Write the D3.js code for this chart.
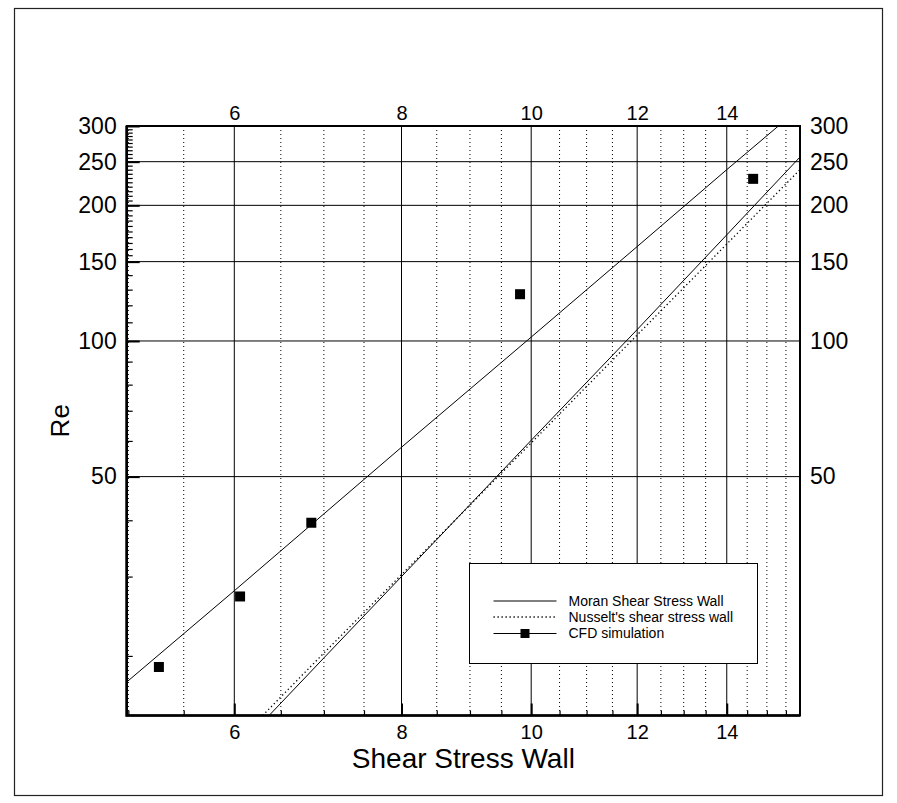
<!DOCTYPE html>
<html>
<head>
<meta charset="utf-8">
<script src="https://cdn.jsdelivr.net/npm/d3@7"></script>
<style>
  html, body { margin: 0; padding: 0; background: #fff; }
  svg { display: block; }
  text { font-family: "Liberation Sans", Arial, Helvetica, sans-serif; fill: #000; }
</style>
</head>
<body>
<svg id="chart" width="897" height="803"></svg>
<script>
// Axis ranges (log-log)
const xDomain = [4.986, 15.88];
const yDomain = [14.75, 300];

// Tick values
const xMajorTicks = [6, 8, 10, 12, 14];
const xMinorTicks = [5, 5.5, 6.5, 7, 7.5, 8.5, 9, 9.5, 10.5, 11, 11.5, 12.5, 13, 13.5, 14.5, 15, 15.5];
const yMajorTicks = [50, 100, 150, 200, 250, 300];
const yGridTicks = [50, 100, 150, 200, 250];
const yMinorTicks = [20, 30, 40, 60, 70, 80, 90, 110, 120, 130, 140,
  155, 160, 165, 170, 175, 180, 185, 190, 195, 205, 210, 215, 220, 225, 230, 235, 240, 245,
  255, 260, 265, 270, 275, 280, 285, 290, 295];

// Moran shear stress wall correlation
const moranX = [4.986, 6, 8, 10, 12, 14, 15.3];
const moranY = [17.5, 27.9, 58.1, 102, 162, 240, 300];

// Nusselt's shear stress wall correlation
const nusseltX = [6.30, 7, 8, 10, 12, 14, 15.88];
const nusseltY = [14.75, 20.3, 30.3, 59.4, 103.1, 164.1, 240];

// CFD simulation: trend line and simulated points
const cfdLineX = [6.37, 7, 8, 10, 12, 14, 15.88];
const cfdLineY = [14.75, 19.8, 30.0, 60.2, 106, 172, 256];
const cfdX = [5.27, 6.06, 6.85, 9.81, 14.65];
const cfdY = [18.9, 27.1, 39.5, 127, 229];

const legendLabels = ["Moran Shear Stress Wall", "Nusselt's shear stress wall", "CFD simulation"];

const svg = d3.select("#chart");
const plot = { left: 126.7, right: 800, top: 126, bottom: 715.5 };

const x = d3.scaleLog().domain(xDomain).range([plot.left, plot.right]);
const y = d3.scaleLog().domain(yDomain).range([plot.bottom, plot.top]);

// Outer page border
svg.append("rect")
  .attr("x", 14.5).attr("y", 8.5)
  .attr("width", 868).attr("height", 787)
  .attr("fill", "none").attr("stroke", "#222").attr("stroke-width", 1.2);

// Grid
const grid = svg.append("g");
grid.selectAll("line.xminor").data(xMinorTicks).join("line")
  .attr("x1", d => x(d)).attr("x2", d => x(d))
  .attr("y1", plot.top).attr("y2", plot.bottom)
  .attr("stroke", "#000").attr("stroke-width", 1).attr("stroke-dasharray", "1,3");
grid.selectAll("line.xmajor").data(xMajorTicks).join("line")
  .attr("x1", d => x(d)).attr("x2", d => x(d))
  .attr("y1", plot.top).attr("y2", plot.bottom)
  .attr("stroke", "#000").attr("stroke-width", 1);
grid.selectAll("line.ymajor").data(yGridTicks).join("line")
  .attr("x1", plot.left).attr("x2", plot.right)
  .attr("y1", d => y(d)).attr("y2", d => y(d))
  .attr("stroke", "#000").attr("stroke-width", 1);

// Curves
const clip = svg.append("clipPath").attr("id", "plotClip");
clip.append("rect")
  .attr("x", plot.left).attr("y", plot.top)
  .attr("width", plot.right - plot.left).attr("height", plot.bottom - plot.top);

const line = d3.line().x(d => x(d[0])).y(d => y(d[1]));
const curves = svg.append("g").attr("clip-path", "url(#plotClip)");
curves.append("path")
  .datum(d3.zip(moranX, moranY))
  .attr("d", line).attr("fill", "none").attr("stroke", "#000").attr("stroke-width", 1);
curves.append("path")
  .datum(d3.zip(cfdLineX, cfdLineY))
  .attr("d", line).attr("fill", "none").attr("stroke", "#000").attr("stroke-width", 1);
curves.append("path")
  .datum(d3.zip(nusseltX, nusseltY))
  .attr("d", line).attr("fill", "none").attr("stroke", "#000").attr("stroke-width", 1.3)
  .attr("stroke-dasharray", "1.3,2.7");

// CFD simulation points
svg.append("g").selectAll("rect").data(d3.zip(cfdX, cfdY)).join("rect")
  .attr("x", d => x(d[0]) - 5).attr("y", d => y(d[1]) - 5)
  .attr("width", 10).attr("height", 10).attr("fill", "#000");

// Axes
const fmt = d3.format("d");
const bottomAxis = svg.append("g")
  .attr("transform", `translate(0,${plot.bottom})`)
  .call(d3.axisBottom(x).tickValues(xMajorTicks).tickFormat(fmt)
    .tickSizeInner(-12).tickSizeOuter(0).tickPadding(9.5));
bottomAxis.selectAll("text").attr("font-size", 20);
bottomAxis.selectAll(".tick line").attr("stroke-width", 2);

const bottomMinor = svg.append("g")
  .attr("transform", `translate(0,${plot.bottom})`)
  .call(d3.axisBottom(x).tickValues(xMinorTicks).tickFormat("")
    .tickSizeInner(-5).tickSizeOuter(0));
bottomMinor.selectAll(".tick line").attr("stroke-width", 1.2);

const topAxis = svg.append("g")
  .attr("transform", `translate(0,${plot.top})`)
  .call(d3.axisTop(x).tickValues(xMajorTicks).tickFormat(fmt)
    .tickSize(0).tickPadding(6.5));
topAxis.selectAll("text").attr("font-size", 20);

const leftAxis = svg.append("g")
  .attr("transform", `translate(${plot.left},0)`)
  .call(d3.axisLeft(y).tickValues(yMajorTicks).tickFormat(fmt)
    .tickSizeInner(-13).tickSizeOuter(0).tickPadding(10));
leftAxis.selectAll("text").attr("font-size", 23);
leftAxis.selectAll(".tick line").attr("stroke-width", 2);

const leftMinor = svg.append("g")
  .attr("transform", `translate(${plot.left},0)`)
  .call(d3.axisLeft(y).tickValues(yMinorTicks).tickFormat("")
    .tickSizeInner(-6).tickSizeOuter(0));
leftMinor.selectAll(".tick line").attr("stroke-width", 1.2);

const rightAxis = svg.append("g")
  .attr("transform", `translate(${plot.right},0)`)
  .call(d3.axisRight(y).tickValues(yMajorTicks).tickFormat(fmt)
    .tickSize(0).tickPadding(10));
rightAxis.selectAll("text").attr("font-size", 23);

svg.selectAll(".domain").remove();

// Plot frame
svg.append("rect")
  .attr("x", plot.left).attr("y", plot.top)
  .attr("width", plot.right - plot.left).attr("height", plot.bottom - plot.top)
  .attr("fill", "none").attr("stroke", "#000").attr("stroke-width", 2);
svg.append("path")
  .attr("d", `M${plot.left},${plot.top}V${plot.bottom}H${plot.right}`)
  .attr("fill", "none").attr("stroke", "#000").attr("stroke-width", 2.6);

// Axis titles
svg.append("text")
  .attr("x", (plot.left + plot.right) / 2).attr("y", 768)
  .attr("text-anchor", "middle").attr("font-size", 28)
  .text("Shear Stress Wall");
svg.append("text")
  .attr("transform", `translate(69,${(plot.top + plot.bottom) / 2}) rotate(-90)`)
  .attr("text-anchor", "middle").attr("font-size", 26)
  .text("Re");

// Legend
const legend = svg.append("g").attr("transform", "translate(469.5,563.5)");
legend.append("rect")
  .attr("width", 288).attr("height", 100)
  .attr("fill", "#fff").attr("stroke", "#000").attr("stroke-width", 1);
const rowY = [37.5, 53.5, 70];
const styles = [
  { dash: null, marker: false },
  { dash: "1.3,2.7", marker: false },
  { dash: null, marker: true }
];
legendLabels.forEach((label, i) => {
  legend.append("line")
    .attr("x1", 24).attr("x2", 87).attr("y1", rowY[i]).attr("y2", rowY[i])
    .attr("stroke", "#000").attr("stroke-width", i === 1 ? 1.3 : 1)
    .attr("stroke-dasharray", styles[i].dash);
  if (styles[i].marker) {
    legend.append("rect")
      .attr("x", 55.5 - 4.5).attr("y", rowY[i] - 4.5)
      .attr("width", 9).attr("height", 9).attr("fill", "#000");
  }
  legend.append("text")
    .attr("x", 99).attr("y", rowY[i]).attr("dy", "0.35em")
    .attr("font-size", 14)
    .text(label);
});
</script>
</body>
</html>
